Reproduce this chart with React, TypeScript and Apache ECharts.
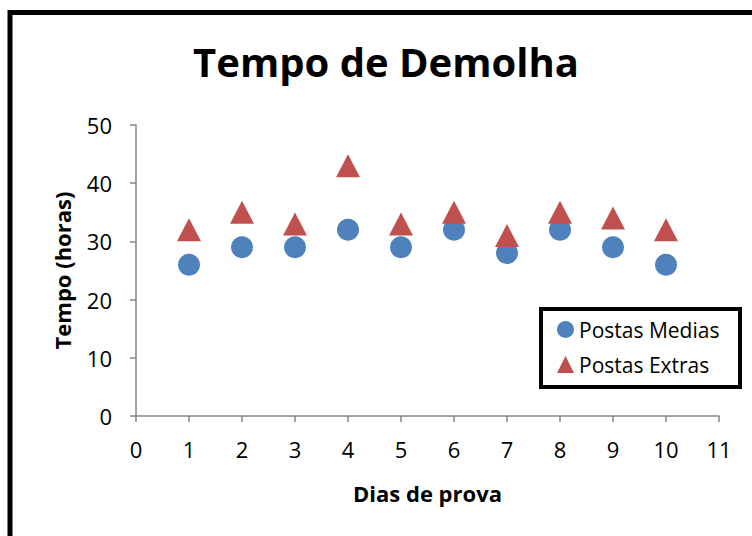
import React, { useEffect, useRef } from "react";
import * as echarts from "echarts";

const days = [1, 2, 3, 4, 5, 6, 7, 8, 9, 10];
const postasMedias = [26, 29, 29, 32, 29, 32, 28, 32, 29, 26];
const postasExtras = [32, 35, 33, 43, 33, 35, 31, 35, 34, 32];
const titleText = "Tempo de Demolha";
const xName = "Dias de prova";
const yName = "Tempo (horas)";
const seriesNames = ["Postas Medias", "Postas Extras"];

const FONT = "'Open Sans', 'Noto Sans', sans-serif";

export default function App() {
  const ref = useRef<HTMLDivElement>(null);
  useEffect(() => {
    const chart = echarts.init(ref.current!, null, { renderer: "svg" });
    chart.setOption({
      animation: false,
      backgroundColor: "#ffffff",
      title: {
        text: titleText,
        left: 381,
        top: 36,
        textAlign: "center",
        textStyle: { fontFamily: FONT, fontSize: 40, fontWeight: "bold", color: "#000" },
      },
      graphic: [
        {
          type: "rect",
          shape: { x: 10, y: 12.5, width: 900, height: 700 },
          style: { fill: "none", stroke: "#000", lineWidth: 5 },
          silent: true,
        },
        {
          type: "rect",
          shape: { x: 541, y: 309, width: 199, height: 78 },
          style: { fill: "#fff", stroke: "#000", lineWidth: 4 },
          silent: true,
          z: 10,
        },
      ],
      legend: {
        orient: "vertical",
        left: 552,
        top: 314,
        itemGap: 14,
        itemWidth: 17,
        itemHeight: 17,
        textStyle: { fontFamily: FONT, fontSize: 21, color: "#000", padding: [0, 0, 0, 0] },
        data: [
          { name: seriesNames[0], icon: "circle" },
          { name: seriesNames[1], icon: "triangle" },
        ],
        z: 20,
      },
      grid: { left: 136, right: 33, top: 125, bottom: 120 },
      xAxis: {
        type: "value",
        min: 0,
        max: 11,
        interval: 1,
        name: xName,
        nameLocation: "middle",
        nameGap: 66,
        nameTextStyle: { fontFamily: FONT, fontSize: 22, fontWeight: "bold", color: "#000" },
        axisLine: { lineStyle: { color: "#868686", width: 1.5 } },
        axisTick: { show: true, length: 6, lineStyle: { color: "#868686", width: 1.5 } },
        axisLabel: { fontFamily: FONT, fontSize: 22, color: "#000", margin: 22 },
        splitLine: { show: false },
      },
      yAxis: {
        type: "value",
        min: 0,
        max: 50,
        interval: 10,
        name: yName,
        nameLocation: "middle",
        nameGap: 63,
        nameRotate: 90,
        nameTextStyle: { fontFamily: FONT, fontSize: 22, fontWeight: "bold", color: "#000" },
        axisLine: { show: true, lineStyle: { color: "#868686", width: 1.5 } },
        axisTick: { show: true, length: 6, lineStyle: { color: "#868686", width: 1.5 } },
        axisLabel: { fontFamily: FONT, fontSize: 22, color: "#000", margin: 24 },
        splitLine: { show: false },
      },
      series: [
        {
          name: seriesNames[0],
          type: "scatter",
          symbol: "circle",
          symbolSize: 22,
          itemStyle: { color: "#4F81BD", opacity: 1 },
          data: days.map((d, i) => [d, postasMedias[i]]),
        },
        {
          name: seriesNames[1],
          type: "scatter",
          symbol: "triangle",
          symbolSize: [24, 23],
          itemStyle: { color: "#C0504D", opacity: 1 },
          data: days.map((d, i) => [d, postasExtras[i]]),
        },
      ],
    });
    return () => chart.dispose();
  }, []);
  return (
    <div
      ref={ref}
      style={{ position: "fixed", left: 0, top: 0, width: 752, height: 536, background: "#fff" }}
    />
  );
}
